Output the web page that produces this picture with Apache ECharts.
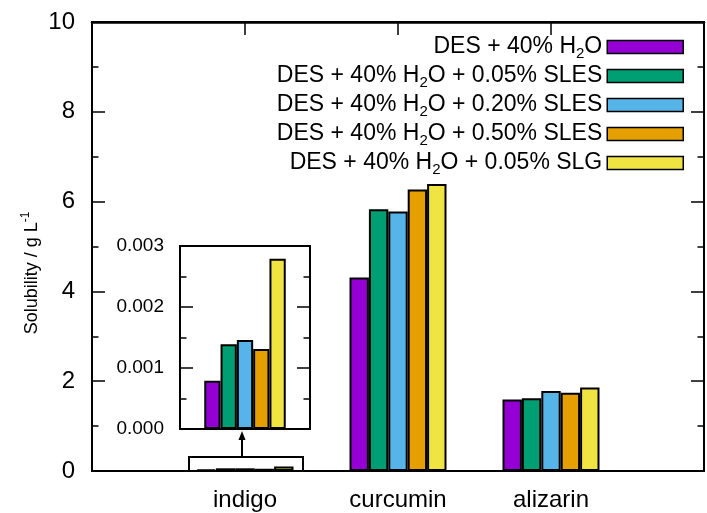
<!DOCTYPE html>
<html><head><meta charset="utf-8">
<script src="https://cdn.jsdelivr.net/npm/echarts@6/dist/echarts.min.js"></script>
<style>html,body{margin:0;padding:0;background:#fff}#c{width:707px;height:513px}</style>
</head><body><div id="c"></div>
<script>
// ---- data ----
const categories = ['indigo', 'curcumin', 'alizarin'];
const seriesNames = [
  'DES + 40% H2O',
  'DES + 40% H2O + 0.05% SLES',
  'DES + 40% H2O + 0.20% SLES',
  'DES + 40% H2O + 0.50% SLES',
  'DES + 40% H2O + 0.05% SLG'
];
const seriesColors = ['#9400d3', '#009e73', '#56b4e9', '#e69f00', '#f0e442'];
const desH2O     = [0.03, 4.31, 1.59];
const desSles005 = [0.06, 5.83, 1.62];
const desSles020 = [0.06, 5.78, 1.78];
const desSles050 = [0.05, 6.27, 1.74];
const desSlg005  = [0.10, 6.39, 1.86];
const insetIndigo = [0.00079, 0.00139, 0.00146, 0.00131, 0.00279];
const mainYTicks = [0, 2, 4, 6, 8, 10];
const insetYTicks = [0, 0.001, 0.002, 0.003];
const zoomBoxTop = 0.31;

// ---- build ----
const FONT = '"Liberation Sans", Arial, sans-serif';
const allMain = [desH2O, desSles005, desSles020, desSles050, desSlg005];
const paddedCats = [''].concat(categories, ['']);
const chart = echarts.init(document.getElementById('c'), null, {renderer: 'canvas'});

function blackLine() { return {show: true, onZero: false, lineStyle: {color: '#000', width: 2}}; }
function tickStyle() { return {color: '#000', width: 1.5}; }
const series = [];
allMain.forEach((vals, i) => {
  series.push({
    type: 'bar', name: seriesNames[i], xAxisIndex: 0, yAxisIndex: 0,
    data: [null].concat(vals, [null]),
    barWidth: 19.4, barGap: '0%',
    itemStyle: {color: seriesColors[i], borderColor: '#000', borderWidth: 2},
    emphasis: {disabled: true}
  });
});
insetIndigo.forEach((v, i) => {
  series.push({
    type: 'bar', name: seriesNames[i], xAxisIndex: 2, yAxisIndex: 2,
    data: [v], barWidth: 16.3, barGap: '0%',
    itemStyle: {color: seriesColors[i], borderColor: '#000', borderWidth: 2},
    emphasis: {disabled: true}, z: 5
  });
});

function valueAxis(grid, min, max, interval, pos, labels, extra) {
  return Object.assign({
    type: 'value', gridIndex: grid, min: min, max: max, interval: interval, position: pos,
    axisLine: blackLine(),
    axisTick: {show: true, inside: true, length: 13, lineStyle: tickStyle()},
    minorTick: {show: true, splitNumber: 2, length: 6.5, lineStyle: tickStyle()},
    splitLine: {show: false}, minorSplitLine: {show: false},
    axisLabel: labels
  }, extra || {});
}

const option = {
  animation: false,
  backgroundColor: '#fff',
  grid: [
    {left: 92, top: 22, width: 618, height: 449, containLabel: false, show: true, borderColor: '#000', borderWidth: 2, backgroundColor: 'transparent'},
    {left: 180, top: 246, width: 130, height: 183, containLabel: false, show: true, backgroundColor: '#fff', borderColor: '#000', borderWidth: 2, z: 4}
  ],
  legend: {
    orient: 'vertical', align: 'right', right: 23, top: 35, padding: 0,
    itemWidth: 76, itemHeight: 13, itemGap: 3, icon: 'rect', selectedMode: false,
    data: seriesNames,
    itemStyle: {borderColor: '#000', borderWidth: 1.5},
    formatter: n => '{a|' + n.replace('H2O', 'H}{s|2}{a|O') + '}',
    textStyle: {
      color: '#000',
      rich: {
        a: {fontSize: 23, fontFamily: FONT, color: '#000', lineHeight: 24, verticalAlign: 'top'},
        s: {fontSize: 15, fontFamily: FONT, color: '#000', lineHeight: 15, padding: [11, 0, 0, 0], verticalAlign: 'top'}
      }
    }
  },
  xAxis: [
    {type: 'category', gridIndex: 0, data: paddedCats, boundaryGap: false, position: 'bottom',
     axisLine: blackLine(), axisTick: {show: false},
     axisLabel: {interval: 0, fontSize: 24, fontFamily: FONT, color: '#000', margin: 17}},
    {type: 'category', gridIndex: 0, data: paddedCats, boundaryGap: false, position: 'top',
     axisLine: {show: true, onZero: false, lineStyle: {color: '#000', width: 2.5}},
     axisTick: {show: true, interval: 0, inside: true, length: 13, lineStyle: {color: '#000', width: 1.5}},
     axisLabel: {show: false}, z: 8},
    {type: 'category', gridIndex: 1, data: ['indigo'], position: 'bottom',
     axisLine: blackLine(), axisTick: {show: false}, axisLabel: {show: false}, z: 6},
    {type: 'category', gridIndex: 1, data: ['indigo'], position: 'top',
     axisLine: blackLine(), axisTick: {show: false}, axisLabel: {show: false}, z: 6}
  ],
  yAxis: [
    valueAxis(0, mainYTicks[0], mainYTicks[mainYTicks.length - 1], mainYTicks[1] - mainYTicks[0], 'left',
      {fontSize: 24, fontFamily: FONT, color: '#000', margin: 17}),
    valueAxis(0, mainYTicks[0], mainYTicks[mainYTicks.length - 1], mainYTicks[1] - mainYTicks[0], 'right',
      {show: false}),
    valueAxis(1, insetYTicks[0], insetYTicks[insetYTicks.length - 1], insetYTicks[1] - insetYTicks[0], 'left',
      {fontSize: 19, fontFamily: FONT, color: '#000', margin: 16, formatter: v => v.toFixed(3)}, {z: 6}),
    valueAxis(1, insetYTicks[0], insetYTicks[insetYTicks.length - 1], insetYTicks[1] - insetYTicks[0], 'right',
      {show: false}, {z: 6})
  ],
  series: series
};
chart.setOption(option);

// annotation: zoom box, arrow, y-axis title
const cx = chart.convertToPixel({xAxisIndex: 0}, 1);
const y0 = chart.convertToPixel({yAxisIndex: 0}, 0);
const yBox = chart.convertToPixel({yAxisIndex: 0}, zoomBoxTop);
const yInset = chart.convertToPixel({yAxisIndex: 2}, 0);
const ax = cx - 3;
chart.setOption({
  graphic: [
    {type: 'rect', shape: {x: cx - 56, y: yBox, width: 114, height: y0 - yBox},
     style: {fill: null, stroke: '#000', lineWidth: 2}, z: 10},
    {type: 'line', shape: {x1: ax, y1: yBox, x2: ax, y2: yInset + 9},
     style: {stroke: '#000', lineWidth: 2}, z: 10},
    {type: 'polygon', shape: {points: [[ax, yInset + 2], [ax - 3.5, yInset + 11], [ax + 3.5, yInset + 11]]},
     style: {fill: '#000'}, z: 10},
    {type: 'text', x: 29, y: 273, rotation: Math.PI / 2, z: 10,
     style: {
       text: '{a|Solubility / g L}{p|-1}', align: 'center', verticalAlign: 'middle',
       rich: {
         a: {fontSize: 18, fontFamily: FONT, fill: '#000', lineHeight: 19, padding: [4, 0, 0, 0], verticalAlign: 'top'},
         p: {fontSize: 12, fontFamily: FONT, fill: '#000', lineHeight: 12, verticalAlign: 'top'}
       }
     }}
  ]
});
</script>
</body></html>
